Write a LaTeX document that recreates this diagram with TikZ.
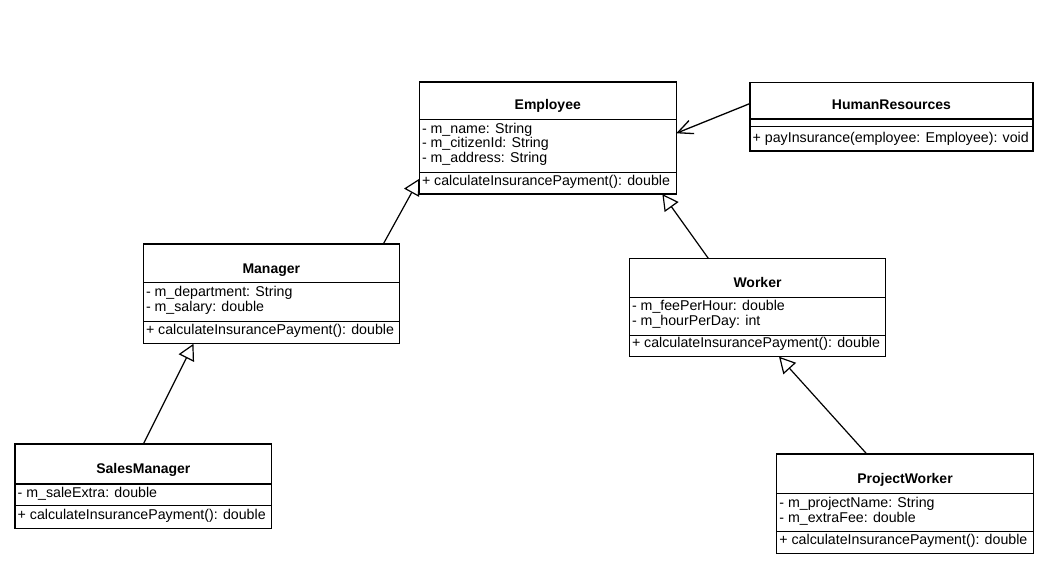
\documentclass[tikz,border=0pt]{standalone}
\usepackage{fontspec}
\setmainfont{Liberation Sans}
\usetikzlibrary{arrows.meta,calc,backgrounds}

\tikzset{
  classbox/.style={draw, line width=1.2pt, fill=white, inner sep=0pt, outer sep=0pt, anchor=north west},
  divider/.style={line width=1.2pt},
  classname/.style={font=\bfseries\fontsize{14}{16}\selectfont, anchor=base, inner sep=0pt},
  member/.style={font=\fontsize{14.2}{16}\selectfont, anchor=base west, inner sep=0pt},
  generalization/.style={line width=1.2pt, -{Triangle[open, length=16pt, width=17pt, line width=1.2pt]}},
  association/.style={line width=1.3pt, -{Straight Barb[length=15pt, width=14pt, line width=1.3pt]}}
}

\begin{document}
\begin{tikzpicture}[x=1pt, y=-1pt]
\useasboundingbox (0,0) rectangle (1046,567);

% ---------- Employee ----------
\node[classbox, minimum width=256.9pt, minimum height=112pt] (emp) at (419.3,82) {};
\draw[divider] (419.3,119.3) -- (676.2,119.3);
\draw[divider] (419.3,172.8) -- (676.2,172.8);
\node[classname] (emp-name) at (547.75,109.3) {Employee};
\node[member] (emp-a1) at (421.8,133.1) {- m\_name: String};
\node[member] (emp-a2) at (421.8,147.9) {- m\_citizenId: String};
\node[member] (emp-a3) at (421.8,162.7) {- m\_address: String};
\node[member] (emp-m1) at (421.8,185) {+ calculateInsurancePayment(): double};

% ---------- HumanResources ----------
\node[classbox, minimum width=283pt, minimum height=68.7pt] (hr) at (750,82.3) {};
\draw[divider] (750,119) -- (1033,119);
\draw[divider] (750,126.7) -- (1033,126.7);
\node[classname] (hr-name) at (891.5,109.3) {HumanResources};
\node[member] (hr-m1) at (752.5,142.5) {+ payInsurance(employee: Employee): void};

% ---------- Manager ----------
\node[classbox, minimum width=256pt, minimum height=99.8pt] (mgr) at (143.3,244) {};
\draw[divider] (143.3,282.7) -- (399.3,282.7);
\draw[divider] (143.3,321.7) -- (399.3,321.7);
\node[classname] (mgr-name) at (271.3,273.2) {Manager};
\node[member] (mgr-a1) at (145.8,296.8) {- m\_department: String};
\node[member] (mgr-a2) at (145.8,311.4) {- m\_salary: double};
\node[member] (mgr-m1) at (145.8,334.2) {+ calculateInsurancePayment(): double};

% ---------- Worker ----------
\node[classbox, minimum width=256.4pt, minimum height=98.4pt] (wrk) at (629.3,258.3) {};
\draw[divider] (629.3,297.3) -- (885.7,297.3);
\draw[divider] (629.3,335.7) -- (885.7,335.7);
\node[classname] (wrk-name) at (757.5,287) {Worker};
\node[member] (wrk-a1) at (631.8,310.9) {- m\_feePerHour: double};
\node[member] (wrk-a2) at (631.8,325.5) {- m\_hourPerDay: int};
\node[member] (wrk-m1) at (631.8,347.5) {+ calculateInsurancePayment(): double};

% ---------- SalesManager ----------
\node[classbox, minimum width=256.7pt, minimum height=84.3pt] (sm) at (15,444) {};
\draw[divider] (15,484) -- (271.7,484);
\draw[divider] (15,505.7) -- (271.7,505.7);
\node[classname] (sm-name) at (143.35,473.6) {SalesManager};
\node[member] (sm-a1) at (17.5,497.5) {- m\_saleExtra: double};
\node[member] (sm-m1) at (17.5,519) {+ calculateInsurancePayment(): double};

% ---------- ProjectWorker ----------
\node[classbox, minimum width=256.6pt, minimum height=99.3pt] (pw) at (776.7,454) {};
\draw[divider] (776.7,493.3) -- (1033.3,493.3);
\draw[divider] (776.7,531.7) -- (1033.3,531.7);
\node[classname] (pw-name) at (905,483.3) {ProjectWorker};
\node[member] (pw-a1) at (779.2,507.2) {- m\_projectName: String};
\node[member] (pw-a2) at (779.2,522) {- m\_extraFee: double};
\node[member] (pw-m1) at (779.2,544.5) {+ calculateInsurancePayment(): double};

% ---------- white paper and relations, behind the class boxes ----------
\begin{scope}[on background layer]
  \fill[white] (0,0) rectangle (1046,567);
  \draw[association] ($(hr.north west)!0.309!(hr.south west)$) -- ($(emp.north east)!0.458!(emp.south east)$);
  \draw[generalization] ($(mgr.north west)!0.9375!(mgr.north east)$) -- ($(emp.north west)!0.864!(emp.south west)$);
  \draw[generalization] ($(wrk.north west)!0.308!(wrk.north east)$) -- ($(emp.south west)!0.946!(emp.south east)$);
  \draw[generalization] (sm.north) -- ($(mgr.south west)!0.196!(mgr.south east)$);
  \draw[generalization] ($(pw.north west)!0.351!(pw.north east)$) -- ($(wrk.south west)!0.584!(wrk.south east)$);
\end{scope}
\end{tikzpicture}
\end{document}
